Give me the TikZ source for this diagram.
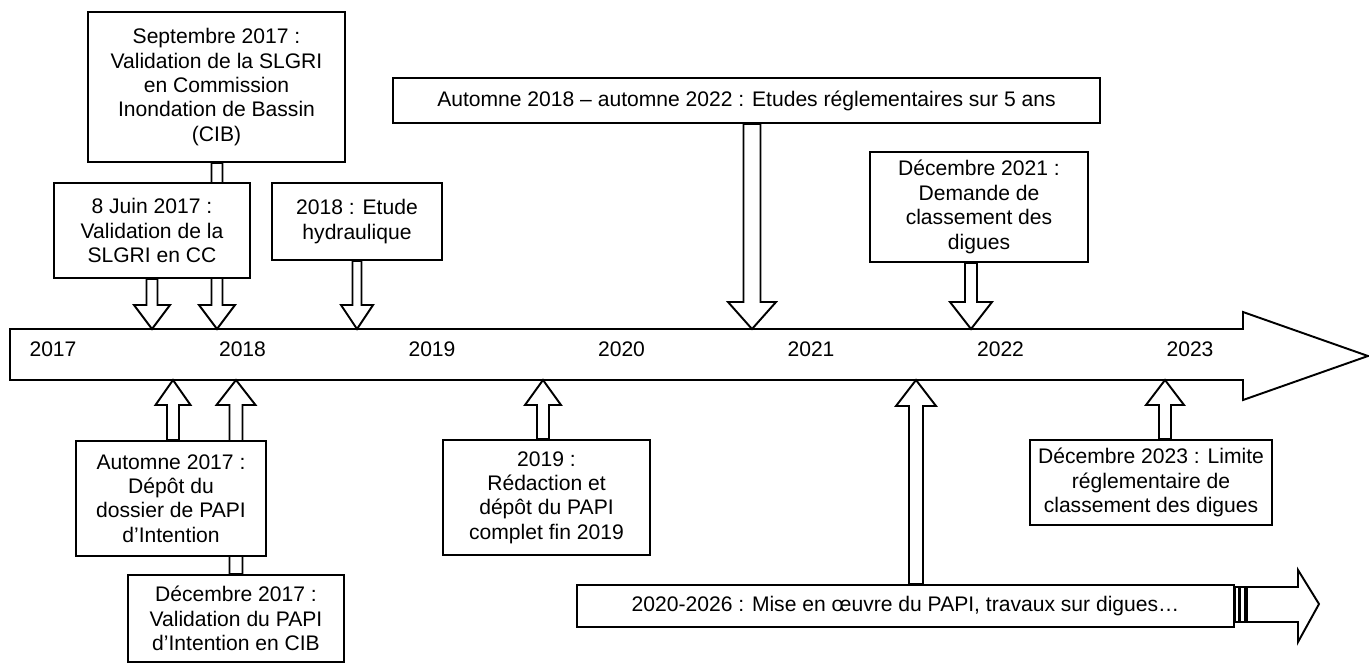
\documentclass[tikz,border=0pt]{standalone}
\usepackage{fontspec}
\setmainfont{Liberation Sans}
\usetikzlibrary{calc, backgrounds}

\tikzset{
  box/.style={draw, line width=1.1pt, fill=white, align=center, inner sep=0pt,
    font=\fontsize{12}{13.9}\selectfont},
  bigarrow/.style={draw, line width=1.1pt, fill=white},
  calloutarrow/.style={draw, line width=1.1pt, fill=white}
}

% stem from a box to the timeline, ending in an open block head
% #1 box anchor, #2 tip, #3 half stem, #4 half head, #5 head base offset
\newcommand{\callarrow}[5]{%
  \draw[calloutarrow] ($(#2 |- #1)+(-#3,0)$) -- ($(#2)+(-#3,#5)$) -- ($(#2)+(-#4,#5)$)
    -- (#2) -- ($(#2)+(#4,#5)$) -- ($(#2)+(#3,#5)$) -- ($(#2 |- #1)+(#3,0)$) -- cycle;}

\begin{document}
\begin{tikzpicture}[x=0.02cm, y=-0.02cm]
  \useasboundingbox (0,0) rectangle (1369,670);

  % boxes above the timeline
  \node (sept) [box, minimum width=5.14cm, minimum height=3cm] at (216.5,87)
    {Septembre 2017 :\\Validation de la SLGRI\\en Commission\\Inondation de Bassin\\(CIB)};
  \node (juin) [box, minimum width=3.92cm, minimum height=1.9cm] at (152,230.5)
    {8 Juin 2017 :\\Validation de la\\SLGRI en CC};
  \node (etude) [box, minimum width=3.4cm, minimum height=1.54cm] at (357,221.5)
    {2018 : Etude\\hydraulique};
  \node (regl) [box, minimum width=14.14cm, minimum height=0.9cm] at (746.5,100.5)
    {Automne 2018 -- automne 2022 : Etudes réglementaires sur 5 ans};
  \node (dem21) [box, minimum width=4.36cm, minimum height=2.2cm] at (979,207)
    {Décembre 2021 :\\Demande de\\classement des\\digues};

  % boxes below the timeline
  \node (aut17) [box, minimum width=3.8cm, minimum height=2.3cm] at (171,498.5)
    {Automne 2017 :\\Dépôt du\\dossier de PAPI\\d’Intention};
  \node (dec17) [box, minimum width=4.32cm, minimum height=1.74cm] at (236,618.5)
    {Décembre 2017 :\\Validation du PAPI\\d’Intention en CIB};
  \node (papi19) [box, minimum width=4.14cm, minimum height=2.3cm] at (546.5,497.5)
    {2019 :\\Rédaction et\\dépôt du PAPI\\complet fin 2019};
  \node (travaux) [box, minimum width=13.14cm, minimum height=0.84cm] at (905.5,606)
    {2020-2026 : Mise en œuvre du PAPI, travaux sur digues…};
  \node (lim23) [box, minimum width=4.84cm, minimum height=1.7cm] at (1151,482.5)
    {Décembre 2023 : Limite\\réglementaire de\\classement des digues};

  % years
  \foreach \yr [count=\i from 0] in {2017,2018,2019,2020,2021,2022,2023}
    \node (y\yr) [font=\fontsize{12}{13.9}\selectfont] at (53+189.5*\i,349) {\yr};

  \coordinate (tSept) at (217,329);
  \coordinate (tJuin) at (152,329);
  \coordinate (tEtude) at (357,329);
  \coordinate (tRegl) at (752,329);
  \coordinate (tDem21) at (971,329);
  \coordinate (tAut17) at (173,380);
  \coordinate (tDec17) at (236,380);
  \coordinate (tPapi19) at (543,380);
  \coordinate (tTravaux) at (916,380);
  \coordinate (tLim23) at (1165,380);

  \begin{scope}[on background layer]
    % timeline
    \draw[bigarrow] (10,329) -- (1243,329) -- (1243,312) -- (1368,356)
      -- (1243,400) -- (1243,380) -- (10,380) -- cycle;
    % end of the works arrow
    \draw[bigarrow] (1247,587) -- (1298,587) -- (1298,570) -- (1319,604)
      -- (1298,642) -- (1298,622) -- (1247,622) -- cycle;
    \draw[line width=0.8pt] (1235,587) rectangle (1239,622);
    \draw[line width=0.8pt] (1240,587) rectangle (1245,622);

    \callarrow{sept.south}{tSept}{5.5}{18}{-24}
    \callarrow{juin.south}{tJuin}{5.5}{18}{-24}
    \callarrow{etude.south}{tEtude}{4.5}{16}{-24}
    \callarrow{regl.south}{tRegl}{8.5}{24}{-27}
    \callarrow{dem21.south}{tDem21}{6}{21}{-27}
    \callarrow{aut17.north}{tAut17}{6}{17.5}{25}
    \callarrow{dec17.north}{tDec17}{6.5}{19.5}{25}
    \callarrow{papi19.north}{tPapi19}{6}{18}{25}
    \callarrow{travaux.north}{tTravaux}{7}{20}{26}
    \callarrow{lim23.north}{tLim23}{6}{19}{25}
  \end{scope}
\end{tikzpicture}
\end{document}
